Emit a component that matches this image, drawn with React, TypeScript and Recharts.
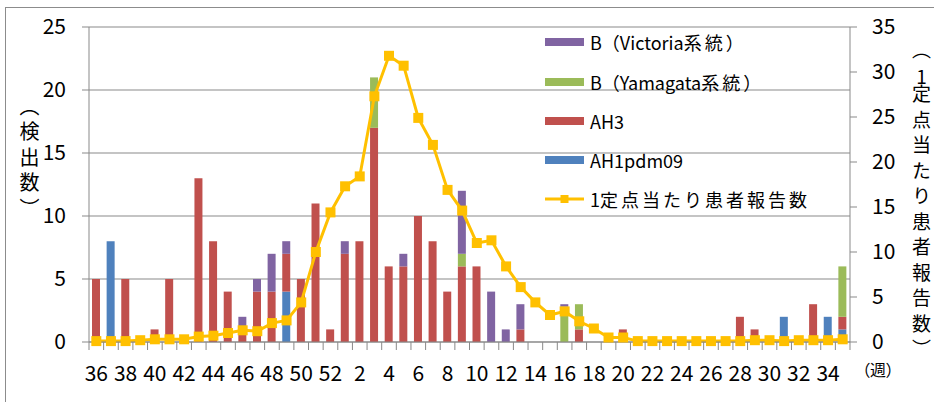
import React from 'react';
import { ComposedChart, Bar, Line, XAxis, YAxis, CartesianGrid } from 'recharts';

const weeks = [36, 37, 38, 39, 40, 41, 42, 43, 44, 45, 46, 47, 48, 49, 50, 51, 52,
  1, 2, 3, 4, 5, 6, 7, 8, 9, 10, 11, 12, 13, 14, 15, 16, 17, 18, 19, 20,
  21, 22, 23, 24, 25, 26, 27, 28, 29, 30, 31, 32, 33, 34, 35];

const ah1pdm09 = [0, 8, 0, 0, 0, 0, 0, 0, 0, 0,
  0, 0, 0, 4, 0, 0, 0, 0, 0, 0,
  0, 0, 0, 0, 0, 0, 0, 0, 0, 0,
  0, 0, 0, 0, 0, 0, 0, 0, 0, 0,
  0, 0, 0, 0, 0, 0, 0, 2, 0, 0,
  2, 1];
const ah3 = [5, 0, 5, 0, 1, 5, 0, 13, 8, 4,
  1, 4, 4, 3, 5, 11, 1, 7, 8, 17,
  6, 6, 10, 8, 4, 6, 6, 0, 0, 1,
  0, 0, 0, 1, 0, 0, 1, 0, 0, 0,
  0, 0, 0, 0, 2, 1, 0, 0, 0, 3,
  0, 1];
const yamagata = [0, 0, 0, 0, 0, 0, 0, 0, 0, 0,
  0, 0, 0, 0, 0, 0, 0, 0, 0, 4,
  0, 0, 0, 0, 0, 1, 0, 0, 0, 0,
  0, 0, 2.8, 2, 0, 0, 0, 0, 0, 0,
  0, 0, 0, 0, 0, 0, 0, 0, 0, 0,
  0, 4];
const victoria = [0, 0, 0, 0, 0, 0, 0, 0, 0, 0,
  1, 1, 3, 1, 0, 0, 0, 1, 0, 0,
  0, 1, 0, 0, 0, 5, 0, 4, 1, 2,
  0, 0, 0.2, 0, 0, 0, 0, 0, 0, 0,
  0, 0, 0, 0, 0, 0, 0, 0, 0, 0,
  0, 0];
const perSentinel = [0.1, 0.1, 0.1, 0.2, 0.3, 0.3, 0.3, 0.6, 0.7, 1.0,
  1.3, 1.2, 2.1, 2.4, 4.4, 10.0, 14.4, 17.3, 18.4, 27.3,
  31.8, 30.7, 24.9, 21.9, 16.9, 14.6, 11.0, 11.3, 8.4, 6.1,
  4.4, 3.0, 3.4, 2.3, 1.5, 0.5, 0.5, 0.1, 0.1, 0.1,
  0.1, 0.1, 0.1, 0.1, 0.1, 0.2, 0.2, 0.1, 0.2, 0.2,
  0.2, 0.3];

const leftTicks = [0, 5, 10, 15, 20, 25];
const rightTicks = [0, 5, 10, 15, 20, 25, 30, 35];

const names = {
  victoria: 'B（Victoria系統）',
  yamagata: 'B（Yamagata系統）',
  ah3: 'AH3',
  ah1pdm09: 'AH1pdm09',
  rate: '1定点当たり患者報告数',
};
const leftTitle = '（検出数）';
const rightTitle = '（1定点当たり患者報告数）';
const xUnit = '（週）';

const colors = {
  victoria: '#8064A2',
  yamagata: '#9BBB59',
  ah3: '#C0504D',
  ah1pdm09: '#4F81BD',
  rate: '#FFC000',
};

const data = weeks.map((w, i) => ({
  week: String(w),
  ah1pdm09: ah1pdm09[i],
  ah3: ah3[i],
  yamagata: yamagata[i],
  victoria: victoria[i],
  rate: perSentinel[i],
}));

const FONT = '"Noto Sans CJK JP", "Noto Sans", sans-serif';
const AXIS = '#898989';

const XTick = (props: any) => {
  const { x, y, payload, index, width } = props;
  const bw = payload && payload.offset ? payload.offset * 2 : (width ? width / weeks.length : 14.6);
  const last = index === weeks.length - 1;
  return (
    <g>
      <line x1={x - bw / 2} y1={y} x2={x - bw / 2} y2={y + 8} stroke={AXIS} strokeWidth={1} />
      {last && <line x1={x + bw / 2} y1={y} x2={x + bw / 2} y2={y + 8} stroke={AXIS} strokeWidth={1} />}
      {index % 2 === 0 && (
        <text x={x} y={y + 39} textAnchor="middle" fontSize={21} fill="#000" fontFamily={FONT}>
          {payload.value}
        </text>
      )}
    </g>
  );
};

const SquareDot = (props: any) => {
  const { cx, cy, index } = props;
  if (cx == null || cy == null) return <g key={`d${index}`} />;
  return <rect key={`d${index}`} x={cx - 5} y={cy - 5} width={10} height={10} fill={colors.rate} />;
};

const legendItems = [
  { key: 'victoria', type: 'bar' },
  { key: 'yamagata', type: 'bar' },
  { key: 'ah3', type: 'bar' },
  { key: 'ah1pdm09', type: 'bar' },
  { key: 'rate', type: 'line' },
];

// widen kanji/kana slightly to match the wider Japanese face of the original
const spaced = (s: string) =>
  Array.from(s).map((ch, i) =>
    /[\u3040-\u30ff\u4e00-\u9fff]/.test(ch)
      ? <span key={i} style={{ letterSpacing: 3 }}>{ch}</span>
      : <span key={i}>{ch}</span>
  );

export default function App() {
  return (
    <div style={{ position: 'absolute', left: 0, top: 0, width: 934, height: 402, overflow: 'hidden', background: '#fff', fontFamily: FONT }}>
      <div style={{ position: 'absolute', left: 5, top: 7, width: 960, height: 420, border: '1px solid #8c8c8c', boxSizing: 'border-box' }} />
      <div style={{ position: 'absolute', left: 0, top: 0 }}>
        <ComposedChart width={934} height={402} data={data} margin={{ top: 27, right: 24, bottom: 20, left: 29 }} barSize={8}>
          <CartesianGrid yAxisId="left" vertical={false} stroke={AXIS} strokeWidth={1} />
          <XAxis dataKey="week" interval={0} tickLine={false} tickSize={0} tickMargin={0} height={40}
            axisLine={{ stroke: AXIS }} tick={<XTick />} />
          <YAxis yAxisId="left" domain={[0, 25]} ticks={leftTicks} width={60} tickSize={7} tickMargin={16}
            axisLine={{ stroke: AXIS }} tickLine={{ stroke: AXIS }}
            tick={{ fontSize: 21, fill: '#000', fontFamily: FONT }} />
          <YAxis yAxisId="right" orientation="right" domain={[0, 35]} ticks={rightTicks} width={60} tickSize={7} tickMargin={15}
            axisLine={{ stroke: AXIS }} tickLine={{ stroke: AXIS }}
            tick={{ fontSize: 21, fill: '#000', fontFamily: FONT, textAnchor: 'start' }} />
          <Bar yAxisId="left" dataKey="ah1pdm09" name={names.ah1pdm09} stackId="a" fill={colors.ah1pdm09} isAnimationActive={false} />
          <Bar yAxisId="left" dataKey="ah3" name={names.ah3} stackId="a" fill={colors.ah3} isAnimationActive={false} />
          <Bar yAxisId="left" dataKey="yamagata" name={names.yamagata} stackId="a" fill={colors.yamagata} isAnimationActive={false} />
          <Bar yAxisId="left" dataKey="victoria" name={names.victoria} stackId="a" fill={colors.victoria} isAnimationActive={false} />
          <Line yAxisId="right" dataKey="rate" name={names.rate} stroke={colors.rate} strokeWidth={3}
            dot={(p: any) => <SquareDot {...p} />} activeDot={false} isAnimationActive={false} />
        </ComposedChart>
      </div>
      <div style={{ position: 'absolute', left: 545, top: 22.6 }}>
        {legendItems.map((it) => (
          <div key={it.key} style={{ height: 39.3, display: 'flex', alignItems: 'center', whiteSpace: 'nowrap' }}>
            {it.type === 'bar' ? (
              <div style={{ width: 39, height: 8, background: (colors as any)[it.key], marginRight: 6 }} />
            ) : (
              <svg width={39} height={12} style={{ marginRight: 6 }}>
                <line x1={0} y1={6} x2={39} y2={6} stroke={colors.rate} strokeWidth={3} />
                <rect x={15.5} y={2} width={8} height={8} fill={colors.rate} />
              </svg>
            )}
            <span style={{ fontSize: 18, color: '#000' }}>{spaced((names as any)[it.key])}</span>
          </div>
        ))}
      </div>
      <div style={{ position: 'absolute', left: 19, top: 96, width: 20, writingMode: 'vertical-rl', fontSize: 20, lineHeight: '20px', letterSpacing: 5.5, color: '#000' }}>
        {leftTitle}
      </div>
      <div style={{ position: 'absolute', left: 911, top: 40, width: 20, writingMode: 'vertical-rl', fontSize: 19, lineHeight: '20px', letterSpacing: 6.5, color: '#000' }}>
        {rightTitle.slice(0, 1)}
        <span style={{ textCombineUpright: 'all' } as any}>{rightTitle.slice(1, 2)}</span>
        {rightTitle.slice(2)}
      </div>
      <div style={{ position: 'absolute', left: 862, top: 359, fontSize: 16, lineHeight: '20px', color: '#000', fontFeatureSettings: '"palt"', whiteSpace: 'nowrap' }}>
        {xUnit}
      </div>
    </div>
  );
}
